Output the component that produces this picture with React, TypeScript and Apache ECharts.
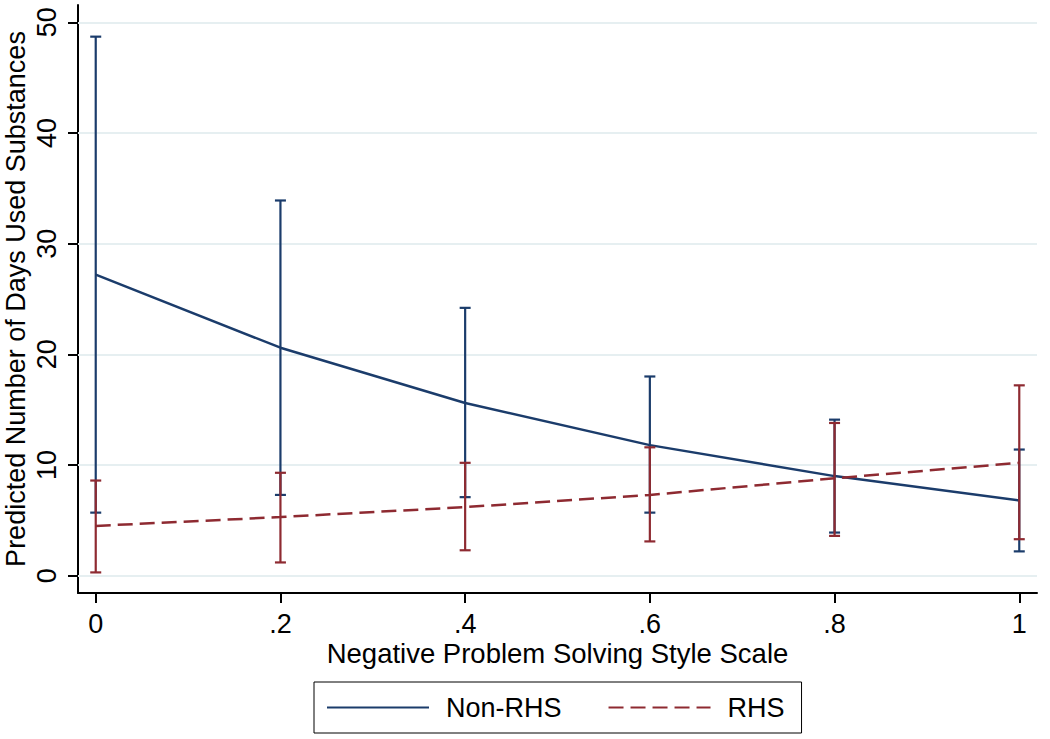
import React, { useEffect, useRef } from "react";
import * as echarts from "echarts";

const xValues = [0, 0.2, 0.4, 0.6, 0.8, 1];
const xTickLabels = ["0", ".2", ".4", ".6", ".8", "1"];
const yTickValues = [0, 10, 20, 30, 40, 50];

const nonRhsPred = [27.2, 20.6, 15.6, 11.8, 9.0, 6.8];
const nonRhsLo = [5.7, 7.3, 7.1, 5.7, 3.9, 2.2];
const nonRhsHi = [48.7, 33.9, 24.2, 18.0, 14.1, 11.4];

const rhsPred = [4.5, 5.3, 6.2, 7.3, 8.8, 10.2];
const rhsLo = [0.3, 1.2, 2.3, 3.1, 3.6, 3.3];
const rhsHi = [8.6, 9.3, 10.2, 11.6, 13.8, 17.2];

const NAVY = "#1b3c6b";
const MAROON = "#8e2a31";
const FONT = "Liberation Sans, Arial, sans-serif";

function ciRender(color: string) {
  return (params: any, api: any) => {
    const x = api.value(0);
    const lo = api.value(1);
    const hi = api.value(2);
    const pHi = api.coord([x, hi]);
    const pLo = api.coord([x, lo]);
    const hw = 5.5;
    const style = { stroke: color, lineWidth: 2.2 };
    return {
      type: "group",
      children: [
        { type: "line", shape: { x1: pHi[0], y1: pHi[1], x2: pLo[0], y2: pLo[1] }, style },
        { type: "line", shape: { x1: pHi[0] - hw, y1: pHi[1], x2: pHi[0] + hw, y2: pHi[1] }, style },
        { type: "line", shape: { x1: pLo[0] - hw, y1: pLo[1], x2: pLo[0] + hw, y2: pLo[1] }, style },
      ],
    };
  };
}

export default function App() {
  const ref = useRef<HTMLDivElement>(null);
  useEffect(() => {
    document.body.style.margin = "0";
    if (!ref.current) return;
    const chart = echarts.init(ref.current, null, { renderer: "svg" });
    const nonRhsLine = xValues.map((x, i) => [x, nonRhsPred[i]]);
    const rhsLine = xValues.map((x, i) => [x, rhsPred[i]]);
    const nonRhsCI = xValues.map((x, i) => [x, nonRhsLo[i], nonRhsHi[i]]);
    const rhsCI = xValues.map((x, i) => [x, rhsLo[i], rhsHi[i]]);
    chart.setOption({
      animation: false,
      backgroundColor: "#ffffff",
      textStyle: { fontFamily: FONT, color: "#000" },
      grid: { left: 78, right: 13, top: 5, bottom: 146, containLabel: false, outerBoundsMode: "none" },
      xAxis: {
        type: "value",
        min: -0.0192,
        max: 1.0192,
        name: "Negative Problem Solving Style Scale",
        nameLocation: "middle",
        nameGap: 47,
        nameMoveOverlap: false,
        nameTextStyle: { fontSize: 27.5, color: "#000", fontFamily: FONT, lineHeight: 27 },
        axisLine: { show: true, onZero: false, lineStyle: { color: "#000", width: 2 } },
        axisTick: { show: true, length: 10, lineStyle: { color: "#000", width: 2 }, customValues: xValues },
        axisLabel: {
          fontSize: 27,
          lineHeight: 27,
          color: "#000",
          margin: 17,
          customValues: xValues,
          formatter: (v: number) => {
            const i = xValues.findIndex((t) => Math.abs(t - v) < 1e-9);
            return i >= 0 ? xTickLabels[i] : "";
          },
        },
        splitLine: { show: false },
      },
      yAxis: {
        type: "value",
        min: -1.56,
        max: 51.56,
        name: "Predicted Number of Days Used Substances",
        nameLocation: "middle",
        nameGap: 49,
        nameMoveOverlap: false,
        nameTextStyle: { fontSize: 27, color: "#000", fontFamily: FONT },
        axisLine: { show: true, onZero: false, lineStyle: { color: "#000", width: 2 } },
        axisTick: { show: true, length: 10, lineStyle: { color: "#000", width: 2 }, customValues: yTickValues },
        axisLabel: {
          fontSize: 27,
          color: "#000",
          rotate: 90,
          margin: 18,
          customValues: yTickValues,
          formatter: (v: number) => String(Math.round(v)),
        },
        splitLine: { show: false },
      },
      legend: {
        data: ["Non-RHS", "RHS"],
        left: 314,
        top: 682,
        orient: "horizontal",
        borderColor: "#000",
        borderWidth: 1,
        padding: [12, 17, 12, 12],
        itemWidth: 102,
        itemHeight: 14,
        itemGap: 46,
        itemStyle: { opacity: 0 },
        textStyle: { fontSize: 27, color: "#000", fontFamily: FONT, padding: [0, 0, 0, 12] },
      },
      series: [
        {
          name: "grid",
          type: "line",
          data: [],
          silent: true,
          z: 1,
          markLine: {
            silent: true,
            z: 1,
            symbol: ["none", "none"],
            label: { show: false },
            lineStyle: { color: "#e6eff1", width: 2, type: "solid" },
            data: yTickValues.map((v) => ({ yAxis: v })),
          },
        },
        {
          name: "Non-RHS CI",
          type: "custom",
          renderItem: ciRender(NAVY),
          data: nonRhsCI,
          encode: { x: 0, y: [1, 2] },
          z: 3,
        },
        {
          name: "Non-RHS",
          type: "line",
          data: nonRhsLine,
          symbol: "none",
          lineStyle: { color: NAVY, width: 2.5 },
          itemStyle: { color: NAVY },
          z: 4,
        },
        {
          name: "RHS CI",
          type: "custom",
          renderItem: ciRender(MAROON),
          data: rhsCI,
          encode: { x: 0, y: [1, 2] },
          z: 5,
        },
        {
          name: "RHS",
          type: "line",
          data: rhsLine,
          symbol: "none",
          lineStyle: { color: MAROON, width: 2.5, type: [15, 7] },
          itemStyle: { color: MAROON },
          z: 6,
        },
      ],
    });
    return () => chart.dispose();
  }, []);
  return <div ref={ref} style={{ width: 1050, height: 739 }} />;
}
